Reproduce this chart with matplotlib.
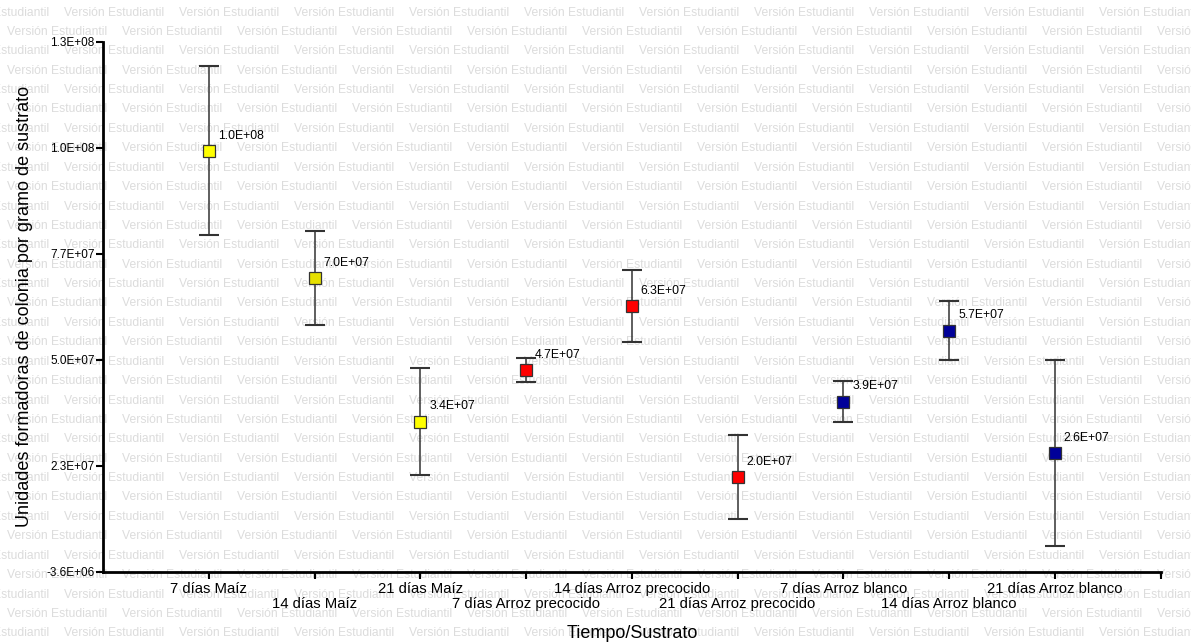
import numpy as np
import matplotlib.pyplot as plt
from matplotlib.ticker import FuncFormatter

plt.rcParams['font.family'] = ['Liberation Sans', 'DejaVu Sans']

categories = ['7 días Maíz', '14 días Maíz', '21 días Maíz',
              '7 días Arroz precocido', '14 días Arroz precocido', '21 días Arroz precocido',
              '7 días Arroz blanco', '14 días Arroz blanco', '21 días Arroz blanco']
means = [102.5e6, 70.4e6, 34.3e6, 47.3e6, 63.4e6, 20.3e6, 39.3e6, 57.2e6, 26.4e6]
errors = [21.3e6, 11.8e6, 13.5e6, 3.0e6, 9.1e6, 10.6e6, 5.1e6, 7.4e6, 23.5e6]
colors = ['#ffff00', '#e6e000', '#ffff00', '#ff0000', '#ff0000', '#ff0000',
          '#000099', '#000099', '#000099']

y_ticks = np.linspace(-3.6e6, 130e6, 6)

fig = plt.figure(figsize=(11.91, 6.44), dpi=100)

# watermark, sized so one phrase is about 100 px wide
probe = fig.text(0, 0, 'Versión Estudiantil', fontsize=10)
w = probe.get_window_extent(renderer=fig.canvas.get_renderer()).width
probe.remove()
wm_size = 10 * 100 / w
for r in range(34):
    y = 1 - (12.5 + r * 19.4) / 644
    off = 64 if r % 2 == 0 else 7
    for k in range(-1, 11):
        x = (off + k * 115) / 1191
        fig.text(x, y, 'Versión Estudiantil', fontsize=wm_size, color='#dcdcdc',
                 va='center', ha='left', zorder=0)

ax = fig.add_axes([0.0865, 0.112, 0.888, 0.823])
ax.set_facecolor('none')
ax.set_zorder(2)

xs = np.arange(1, len(categories) + 1)
for x, m, e, c in zip(xs, means, errors, colors):
    ax.errorbar(x, m, yerr=e, fmt='none', ecolor='#333333', elinewidth=1.1,
                capsize=7, capthick=1.5, zorder=3)
    ax.plot(x, m, marker='s', markersize=9, markerfacecolor=c,
            markeredgecolor='#333333', markeredgewidth=0.9, zorder=4)
    ax.annotate(f'{m:.1E}', (x, m), xytext=(6.5, 11), textcoords='offset points',
                fontsize=8.8, ha='left', va='center')

ax.set_xlim(0, 10)
ax.set_ylim(-3.6e6, 130e6)
ax.set_yticks(y_ticks)
ax.yaxis.set_major_formatter(FuncFormatter(lambda v, p: f'{v:.1E}'))
ax.set_xticks(list(xs) + [10])
ax.set_xticklabels([c if i % 2 == 0 else '\n' + c for i, c in enumerate(categories)] + [''],
                   linespacing=1.1)

for s in ['top', 'right']:
    ax.spines[s].set_visible(False)
for s in ['left', 'bottom']:
    ax.spines[s].set_linewidth(2)
ax.tick_params(axis='y', labelsize=8.5, length=5, width=1.5, pad=1)
ax.tick_params(axis='x', labelsize=10.7, length=5, width=1.5, pad=2)

ax.set_ylabel('Unidades formadoras de colonia por gramo de sustrato', fontsize=13, labelpad=10)
ax.set_xlabel('Tiempo/Sustrato', fontsize=13, labelpad=10)

fig.savefig('out.png', dpi=100)
